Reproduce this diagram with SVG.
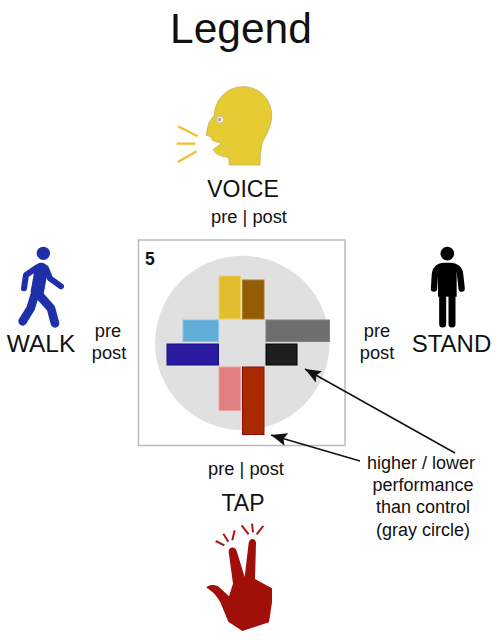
<svg xmlns="http://www.w3.org/2000/svg" width="500" height="640" viewBox="0 0 500 640">
<style>
text{font-family:"Liberation Sans",Arial,sans-serif;fill:#111}
.t{text-anchor:middle}
.l{font-size:23px}
.s{font-size:18.300px}
.n{font-size:18px}
.bar{stroke-width:1}
.limb{fill:none;stroke-linecap:round;stroke-linejoin:round}
</style>
<defs>
<marker id="ah" markerUnits="userSpaceOnUse" markerWidth="18" markerHeight="14" refX="16" refY="7" orient="auto">
<path d="M0 0.500L16 7L0 13.500L3 7Z" fill="#111"/>
</marker>
</defs>
<rect width="500" height="640" fill="#fff"/>
<text id="title" class="t" x="241" y="43" font-size="42.5">Legend</text>

<g id="voice">
<g transform="translate(160 80) scale(.3333)">
<path d="M300 255L208 255L206 232C190 230 165 226 160 208L185 190L158 182L153 171L138 165L146 130L163 105C165 60 200 20 250 20C300 20 335 60 335 105C335 135 322 160 308 185C302 205 300 230 300 255Z" fill="#e6cb35" stroke="#b9a848" stroke-width="2"/>
<circle cx="180" cy="119" r="10" fill="#fff" stroke="#aaa" stroke-width="2"/>
<circle cx="179" cy="119" r="4" fill="#c9b030" stroke="#777" stroke-width="1.500"/>
<path d="M54 139L113 169M50 191H106M54 246L110 214" stroke="#efbf30" stroke-width="7" fill="none"/>
</g>
<text class="t l" x="243" y="197">VOICE</text>
<text class="t s" x="249" y="223">pre | post</text>
</g>

<g id="walk">
<g transform="translate(0 240) scale(.3333)">
<circle cx="130" cy="40" r="20" fill="#1f2fa8"/>
<path class="limb" stroke="#1f2fa8" stroke-width="18" d="M112 82L78 105L72 145M138 85L150 115L183 139"/>
<path class="limb" stroke="#1f2fa8" stroke-width="40" d="M124 88L112 155"/>
<path class="limb" stroke="#1f2fa8" stroke-width="26" d="M120 168L153 205L165 250M104 165L92 205L68 244"/>
</g>
<text class="t" x="41" y="352" font-size="24.500">WALK</text>
<text class="t s" x="108" y="337">pre</text>
<text class="t s" x="109" y="359">post</text>
</g>

<g id="stand">
<g transform="translate(410 240) scale(.3333)">
<circle cx="112" cy="41" r="20.500" fill="#000"/>
<path class="limb" stroke="#000" stroke-width="19" d="M72 146L75 100C77 86 88 78 100 78H124C136 78 148 86 150 100L155 146"/>
<path d="M84 80H140V170H84Z" fill="#000"/>
<path class="limb" stroke="#000" stroke-width="21" d="M98 165V252M126 165V252"/>
</g>
<text class="t" x="451.500" y="352" font-size="24">STAND</text>
<text class="t s" x="377" y="337">pre</text>
<text class="t s" x="377" y="359">post</text>
</g>

<g id="panel">
<rect x="138.5" y="240" width="206.500" height="205.500" fill="#fff" stroke="#bbb" stroke-width="1.500"/>
<circle cx="242.300" cy="343" r="87.200" fill="#e0e0e0"/>
<text x="145" y="265" font-size="17.500" font-weight="bold">5</text>
<rect class="bar" x="219" y="276" width="21.500" height="43" fill="#e2bd30" stroke="#ecd068"/>
<rect class="bar" x="242.500" y="280" width="21.500" height="39" fill="#935d08" stroke="#a87a30"/>
<rect class="bar" x="183" y="320" width="35.500" height="21.500" fill="#62acd8" stroke="#8cc4e4"/>
<rect class="bar" x="266" y="320" width="63.500" height="21.500" fill="#6e6e6e" stroke="#808080"/>
<rect class="bar" x="167" y="344" width="51.500" height="21" fill="#2a1a9e" stroke="#10108c"/>
<rect class="bar" x="266" y="344" width="31" height="21" fill="#1e1e1e" stroke="#000"/>
<rect class="bar" x="219" y="367" width="21.500" height="43.500" fill="#e07f7f" stroke="#e8a0a0"/>
<rect class="bar" x="242.500" y="367" width="21.500" height="67.500" fill="#a82a00" stroke="#900c0c"/>
</g>

<g id="connectors" fill="none" stroke="#111" stroke-width="1.500">
<path d="M455 453L305 369" marker-end="url(#ah)"/>
<path d="M360 461L271 435" marker-end="url(#ah)"/>
</g>

<g id="note">
<text class="t n" x="421" y="469">higher / lower</text>
<text class="t n" x="423" y="491">performance</text>
<text class="t n" x="423" y="513">than control</text>
<text class="t n" x="423" y="536">(gray circle)</text>
</g>

<g id="tap">
<text class="t s" x="246" y="475">pre | post</text>
<text class="t l" x="243" y="511">TAP</text>
<g transform="translate(195 515) scale(.3333)">
<path d="M101 110C101 94 122 94 125 108L149 186L161 84C163 68 182 68 183 84L180 192L206 206L231 220L231 262L222 322L142 348L100 320L76 262C64 240 52 228 34 218C40 208 60 208 72 216L102 244L114 206Z" fill="#a00f0a"/>
<path d="M62 78L88 91M85 56L100 80M119 46L112 76M140 31L161 58M171 26L174 52M205 33L185 58" stroke="#a81818" stroke-width="6" fill="none"/>
</g>
</g>
</svg>
